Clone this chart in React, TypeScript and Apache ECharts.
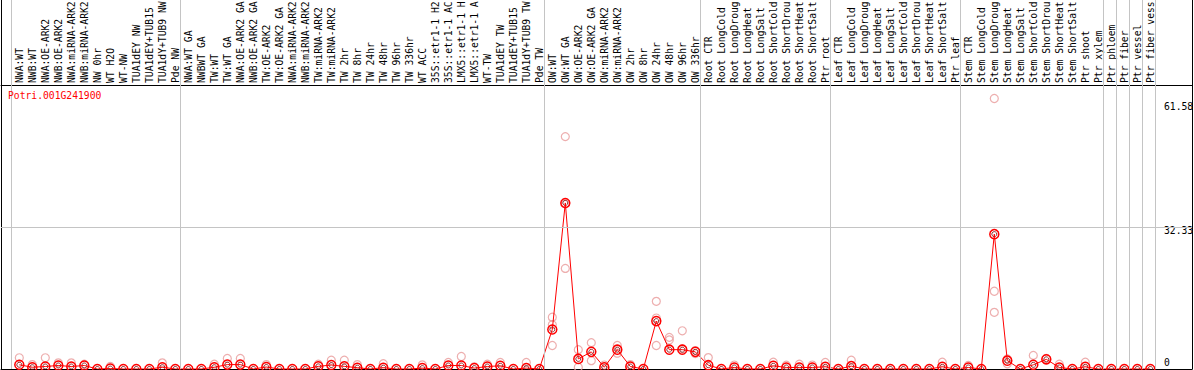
import React, { useEffect, useRef } from "react";
import * as echarts from "echarts";

const FONT = '"DejaVu Sans Mono", monospace';

const geneId = "Potri.001G241900";

// labels as shown (the source truncates them to 14 characters)
const categories = [
  "NWA:WT", "NWB:WT", "NWA:OE-ARK2", "NWB:OE-ARK2", "NWA:miRNA-ARK2", "NWB:miRNA-ARK2", "NW 0hr", "WT H2O", "WT-NW", "TUA1dEY NW",
  "TUA1dEY+TUB15", "TUA1dY+TUB9 NW", "Pde NW",
  "NWA:WT GA", "NWBWT GA", "TW:WT", "TW:WT GA", "NWA:OE-ARK2 GA", "NWB:OE-ARK2 GA", "TW:OE-ARK2", "TW:OE-ARK2 GA",
  "NWA:miRNA-ARK2", "NWB:miRNA-ARK2", "TW:miRNA-ARK2", "TW:miRNA-ARK2", "TW 2hr", "TW 8hr", "TW 24hr", "TW 48hr",
  "TW 96hr", "TW 336hr", "WT ACC", "35S::etr1-1 H2", "35S::etr1-1 AC", "LMX5::etr1-1 H", "LMX5::etr1-1 A", "WT-TW",
  "TUA1dEY TW", "TUA1dEY+TUB15", "TUA1dY+TUB9 TW", "Pde TW",
  "OW:WT", "OW:WT GA", "OW:OE-ARK2", "OW:OE-ARK2 GA", "OW:miRNA-ARK2", "OW:miRNA-ARK2", "OW 2hr", "OW 8hr", "OW 24hr",
  "OW 48hr", "OW 96hr", "OW 336hr",
  "Root CTR", "Root LongCold", "Root LongDroug", "Root LongHeat", "Root LongSalt", "Root ShortCold", "Root ShortDrou",
  "Root ShortHeat", "Root ShortSalt", "Ptr root",
  "Leaf CTR", "Leaf LongCold", "Leaf LongDroug", "Leaf LongHeat", "Leaf LongSalt", "Leaf ShortCold", "Leaf ShortDrou",
  "Leaf ShortHeat", "Leaf ShortSalt", "Ptr leaf",
  "Stem CTR", "Stem LongCold", "Stem LongDroug", "Stem LongHeat", "Stem LongSalt", "Stem ShortCold", "Stem ShortDrou",
  "Stem ShortHeat", "Stem ShortSalt", "Ptr shoot", "Ptr xylem",
  "Ptr phloem", "Ptr fiber", "Ptr vessel", "Ptr fiber vess",
];

const means = [
  0.96, 0.4, 0.57, 0.8, 0.57, 0.8, 0, 0.1, 0, 0,
  0, 0.4, 0, 0, 0, 0.4, 1.0, 1.0, 0, 0.45,
  0, 0, 0, 0.6, 0.9, 0.6, 0.3, 0, 0.3, 0,
  0, 0.2, 0, 0.8, 0.8, 0.2, 0.57, 0.72, 0, 0.2,
  0, 9.0, 37.8, 2.3, 3.9, 0.4, 4.4, 0.57, 0, 10.9,
  4.4, 4.4, 3.9, 0.87, 0, 0.35, 0, 0, 0.72, 0.35,
  0.35, 0.35, 0.5, 0, 0.65, 0, 0, 0, 0, 0,
  0, 0.5, 0, 0.35, 0, 30.7, 1.9, 0, 0.95, 2.2,
  0.35, 0, 0.5, 0, 0, 0, 0, 0,
];

const rep1 = [
  2.55, 1.0, 2.55, 1.4, 1.4, 1.1, null, 0.6, null, null,
  null, 1.4, null, null, null, 1.1, 2.4, 2.4, null, 1.0,
  null, null, null, 1.1, 2.0, 2.0, 1.0, null, 1.2, null,
  null, 0.95, null, 1.5, 2.85, 0.5, 1.1, 1.5, null, 1.5,
  null, 11.8, 52.9, 4.4, 6.0, 0.9, 5.35, 1.0, null, 15.4,
  7.2, 8.7, 4.2, 2.6, null, 0.9, null, null, 1.55, 0.87,
  1.1, 0.9, 1.5, null, 2.0, null, null, null, null, null,
  null, 1.55, null, 0.8, null, 61.58, 1.2, null, 3.1, 2.4,
  1.1, null, 1.55, null, null, null, null, null,
];

const rep2 = [
  null, null, null, null, null, null, null, null, null, null,
  null, null, null, null, null, null, null, null, null, null,
  null, null, null, null, null, null, null, null, null, null,
  null, null, null, null, null, null, null, null, null, null,
  null, 10.1, 22.9, 0.4, 1.9, null, 3.6, null, null, 11.6,
  6.6, 4.6, 3.5, null, null, null, null, null, null, null,
  null, null, null, null, null, null, null, null, null, null,
  null, null, null, null, null, 17.7, 2.3, null, null, null,
  null, null, null, null, null, null, null, null,
];

const rep3 = [
  null, null, null, null, null, null, null, null, null, null,
  null, null, null, null, null, null, null, null, null, null,
  null, null, null, null, null, null, null, null, null, null,
  null, null, null, null, null, null, null, null, null, null,
  null, 5.35, 37.6, null, null, null, null, null, null, 5.35,
  null, null, null, null, null, null, null, null, null, null,
  null, null, null, null, null, null, null, null, null, null,
  null, null, null, null, null, 12.9, null, null, null, null,
  null, null, null, null, null, null, null, null,
];

// indices after which a group separator is drawn
const groupEnds = [-1, 12, 40, 52, 62, 72, 83, 84, 85, 86, 87];

const yTickValues = [0, 32.33, 61.58];
const midLineValue = 32.33;

export default function App() {
  const ref = useRef<HTMLDivElement>(null);

  useEffect(() => {
    if (!ref.current) return;
    const chart = echarts.init(ref.current, undefined, { renderer: "svg" });

    const X_MIN = -1.408;
    const X_MAX = 90.208;
    const Y_TOP = 84.0;
    const FS = 9.7;

    const repData: any[] = [];
    [rep1, rep2, rep3].forEach((arr) => {
      arr.forEach((v, i) => {
        if (v !== null && v !== undefined) repData.push([i, v]);
      });
    });
    const meanData = means.map((v, i) => [i, v]);

    const axisBase = {
      type: "value" as const,
      min: X_MIN,
      max: X_MAX,
      axisTick: { show: false },
      splitLine: { show: false },
    };

    chart.setOption({
      animation: false,
      backgroundColor: "#ffffff",
      title: {
        text: geneId,
        left: 8,
        top: 90,
        padding: 0,
        textStyle: { color: "#ff0000", fontSize: FS, fontFamily: FONT, fontWeight: "normal" },
      },
      grid: { left: 1, right: 2, top: 0, bottom: 1, containLabel: false, outerBoundsMode: "none" },
      xAxis: [
        {
          ...axisBase,
          position: "top",
          offset: -85,
          axisLine: { show: true, onZero: false, lineStyle: { color: "#000", width: 1 } },
          axisLabel: {
            show: true,
            rotate: -90,
            align: "left",
            verticalAlign: "middle",
            margin: 2,
            fontSize: FS,
            fontFamily: FONT,
            color: "#000",
            hideOverlap: false,
            customValues: categories.map((_, i) => i),
            formatter: (v: number) => categories[Math.round(v)] ?? "",
          },
        },
        {
          ...axisBase,
          position: "bottom",
          axisLine: { show: true, onZero: false, lineStyle: { color: "#000", width: 1 } },
          axisLabel: { show: false },
        },
      ],
      yAxis: [
        {
          type: "value",
          position: "right",
          offset: -30,
          min: 0,
          max: Y_TOP,
          axisLine: { show: false, onZero: false },
          axisTick: { show: false },
          splitLine: { show: false },
          axisLabel: {
            show: true,
            margin: 2,
            fontSize: FS,
            fontFamily: FONT,
            color: "#000",
            customValues: yTickValues,
            formatter: (v: number) => {
              const s = String(v);
              if (v === 0) return "{z|" + s + "}";
              if (v < 40) return "{m|" + s + "}";
              return "{t|" + s + "}";
            },
            rich: {
              z: { fontSize: FS, fontFamily: FONT, color: "#000", padding: [0, 0, 14, 0] },
              m: { fontSize: FS, fontFamily: FONT, color: "#000", padding: [7, 0, 0, 0] },
              t: { fontSize: FS, fontFamily: FONT, color: "#000", padding: [17, 0, 0, 0] },
            },
          },
        },
        {
          type: "value",
          position: "left",
          min: 0,
          max: Y_TOP,
          axisLine: { show: true, onZero: false, lineStyle: { color: "#000", width: 1 } },
          axisTick: { show: false },
          axisLabel: { show: false },
          splitLine: { show: false },
        },
        {
          type: "value",
          position: "right",
          min: 0,
          max: Y_TOP,
          axisLine: { show: true, onZero: false, lineStyle: { color: "#000", width: 1 } },
          axisTick: { show: false },
          axisLabel: { show: false },
          splitLine: { show: false },
        },
      ],
      series: [
        {
          type: "scatter",
          xAxisIndex: 0,
          yAxisIndex: 0,
          data: repData,
          symbol: "circle",
          symbolSize: 8,
          itemStyle: { color: "rgba(0,0,0,0)", borderColor: "#e89a9a", borderWidth: 1.2 },
          silent: true,
          markLine: {
            silent: true,
            symbol: ["none", "none"],
            animation: false,
            label: { show: false },
            lineStyle: { color: "#c4c4c4", width: 1, type: "solid" },
            emphasis: { disabled: true },
            data: [
              ...groupEnds.map((e) => ({ xAxis: e + 0.38 })),
              { yAxis: midLineValue },
            ],
          },
        },
        {
          type: "line",
          xAxisIndex: 0,
          yAxisIndex: 0,
          data: meanData,
          symbol: "circle",
          symbolSize: 9,
          showAllSymbol: true,
          lineStyle: { color: "#ff0000", width: 1 },
          itemStyle: { color: "rgba(0,0,0,0)", borderColor: "#ff0000", borderWidth: 1.5 },
          silent: true,
        },
        {
          type: "scatter",
          xAxisIndex: 0,
          yAxisIndex: 0,
          data: meanData,
          symbol: "circle",
          symbolSize: 5,
          itemStyle: { color: "rgba(0,0,0,0)", borderColor: "#700000", borderWidth: 1 },
          silent: true,
        },
      ],
    });

    return () => chart.dispose();
  }, []);

  return (
    <div
      ref={ref}
      style={{ position: "absolute", left: 0, top: 0, width: 1194, height: 370, background: "#fff" }}
    />
  );
}
